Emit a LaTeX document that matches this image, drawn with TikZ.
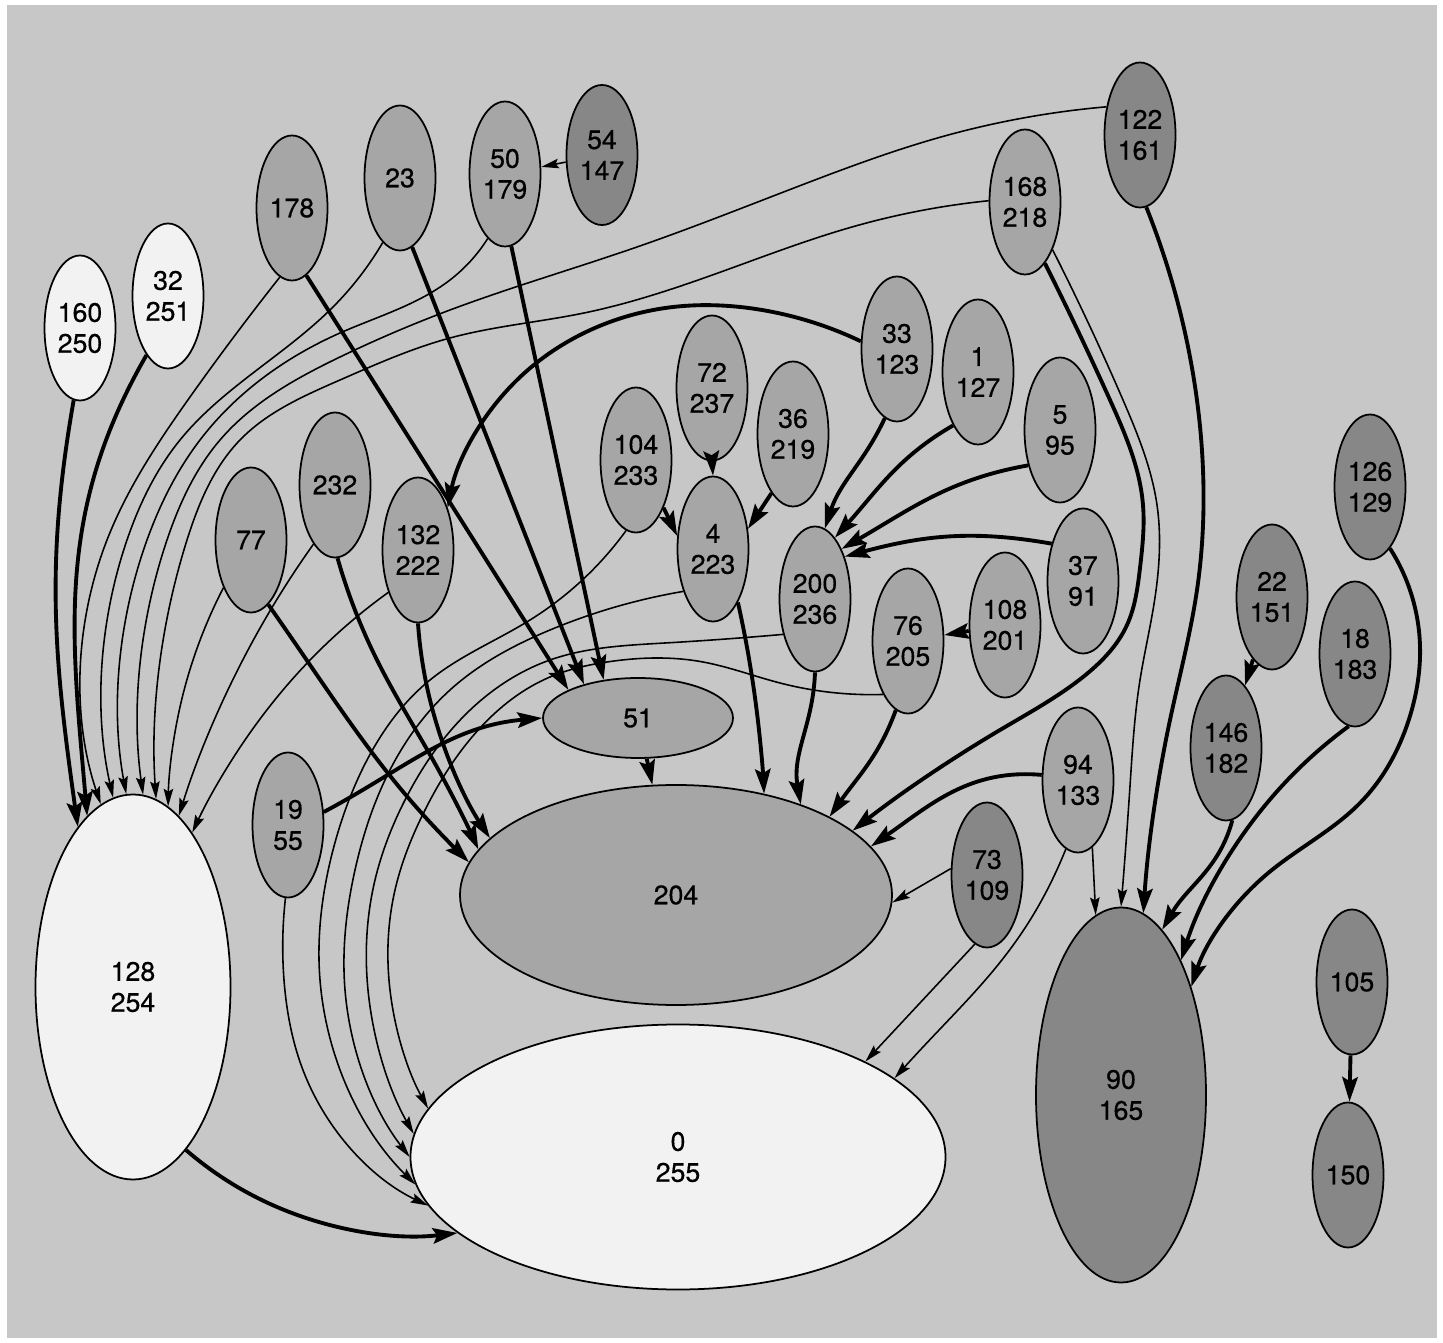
\documentclass[tikz,border=0pt]{standalone}
\usepackage{fontspec}
\setmainfont{TeX Gyre Heros}
\newfontfamily\vertexfont[FakeBold=0.45]{TeX Gyre Heros}
\usetikzlibrary{arrows.meta,shapes.geometric,hobby}
\definecolor{paper}{gray}{0.78}
\definecolor{midgray}{gray}{0.65}
\definecolor{deepgray}{gray}{0.53}
\definecolor{palegray}{gray}{0.95}
\tikzset{
    vertex/.style={
        ellipse, draw=black, line width=0.5pt, fill=midgray, inner sep=0pt,
        minimum width=7.1mm, minimum height=14.5mm, align=center,
        text=black, font=\vertexfont\fontsize{7.6}{8.8}\selectfont
    },
    pale/.style={fill=palegray},
    deep/.style={fill=deepgray},
    heavy/.style={line width=1.1pt, -{Stealth[length=7pt,width=4.4pt,inset=1.2pt]}},
    light/.style={line width=0.45pt, -{Stealth[length=5pt,width=2.7pt,inset=0.8pt]}}
}
\begin{document}
\begin{tikzpicture}[use Hobby shortcut]
    \useasboundingbox (0,0) rectangle (14.43,-13.43);
    \fill[paper] (0.07,-0.05) rectangle (14.37,-13.38);

    \node[vertex,pale] (v160) at (0.80,-3.28) {160\\250};
    \node[vertex,pale] (v32) at (1.68,-2.96) {32\\251};
    \node[vertex] (v178) at (2.92,-2.08) {178};
    \node[vertex] (v23) at (4.00,-1.78) {23};
    \node[vertex] (v50) at (5.05,-1.74) {50\\179};
    \node[vertex,deep,minimum height=14mm] (v54) at (6.02,-1.55) {54\\147};
    \node[vertex,deep] (v122) at (11.40,-1.35) {122\\161};
    \node[vertex] (v168) at (10.25,-2.02) {168\\218};
    \node[vertex] (v33) at (8.97,-3.49) {33\\123};
    \node[vertex] (v1) at (9.78,-3.72) {1\\127};
    \node[vertex] (v5) at (10.60,-4.30) {5\\95};
    \node[vertex] (v72) at (7.12,-3.88) {72\\237};
    \node[vertex] (v36) at (7.93,-4.34) {36\\219};
    \node[vertex] (v104) at (6.36,-4.60) {104\\233};
    \node[vertex] (v4) at (7.13,-5.49) {4\\223};
    \node[vertex] (v200) at (8.15,-5.99) {200\\236};
    \node[vertex] (v76) at (9.08,-6.41) {76\\205};
    \node[vertex] (v108) at (10.05,-6.25) {108\\201};
    \node[vertex] (v37) at (10.83,-5.81) {37\\91};
    \node[vertex,deep] (v126) at (13.70,-4.87) {126\\129};
    \node[vertex,deep] (v22) at (12.72,-5.97) {22\\151};
    \node[vertex,deep] (v18) at (13.55,-6.54) {18\\183};
    \node[vertex,deep] (v146) at (12.26,-7.48) {146\\182};
    \node[vertex] (v77) at (2.51,-5.40) {77};
    \node[vertex] (v232) at (3.35,-4.85) {232};
    \node[vertex] (v132) at (4.18,-5.50) {132\\222};
    \node[vertex,minimum width=19mm,minimum height=8mm] (v51) at (6.38,-7.18) {51};
    \node[vertex] (v19) at (2.88,-8.25) {19\\55};
    \node[vertex] (v94) at (10.78,-7.80) {94\\133};
    \node[vertex,deep] (v73) at (9.87,-8.75) {73\\109};
    \node[vertex,minimum width=43.2mm,minimum height=22mm] (v204) at (6.76,-8.95) {204};
    \node[vertex,pale,minimum width=19.5mm,minimum height=38.5mm] (v128) at (1.33,-9.87) {128\\254};
    \node[vertex,pale,minimum width=53.5mm,minimum height=26.5mm] (v0) at (6.78,-11.57) {0\\255};
    \node[vertex,deep,minimum width=17mm,minimum height=37.5mm] (v90) at (11.21,-10.95) {90\\165};
    \node[vertex,deep] (v105) at (13.52,-9.82) {105};
    \node[vertex,deep] (v150) at (13.48,-11.75) {150};

    \draw[heavy] (v160.-95) to[out=-100,in=98] (v128.109);
    \draw[heavy] (v32.-110) to[out=-120,in=95] (v128.105);
    \draw[light] (v178.-100) .. (1.90,-3.97) .. (1.07,-5.40) .. (v128.100);
    \draw[light] (v23.-105) .. (3.33,-3.07) .. (1.80,-4.40) .. (1.27,-5.40) .. (v128.96);
    \draw[light] (v50.-105) .. (4.50,-2.80) .. (3.40,-3.33) .. (2.00,-4.40) .. (1.47,-5.40) .. (v128.92);
    \draw[light] (v122.140) .. (9.41,-1.37) .. (8.07,-1.83) .. (6.37,-2.47) .. (4.50,-3.10) .. (3.40,-3.57) .. (2.20,-4.40) .. (1.67,-5.40) .. (v128.87);
    \draw[light] (v168.178) .. (8.52,-2.27) .. (7.18,-2.73) .. (5.84,-3.13) .. (4.50,-3.38) .. (3.40,-3.80) .. (2.40,-4.40) .. (1.87,-5.40) .. (v128.83);
    \draw[light] (v77.-120) .. (1.80,-7.07) .. (v128.79);
    \draw[light] (v232.-110) .. (2.48,-6.50) .. (v128.75);
    \draw[light] (v132.-125) .. (3.20,-6.50) .. (2.45,-7.40) .. (v128.69);

    \draw[heavy] (v128.-72) .. (2.77,-12.07) .. (v0.199);
    \draw[light] (v19.-92) .. (2.84,-9.80) .. (3.07,-10.80) .. (v0.191);
    \draw[light] (v104.-98) .. (5.30,-6.20) .. (4.30,-6.80) .. (3.62,-7.70) .. (3.33,-8.50) .. (3.20,-9.80) .. (v0.186);
    \draw[light] (v4.235) .. (5.50,-6.30) .. (4.50,-6.90) .. (3.85,-7.80) .. (3.55,-8.70) .. (3.45,-9.90) .. (v0.180);
    \draw[light] (v200.228) .. (6.65,-6.43) .. (5.50,-6.60) .. (4.65,-7.15) .. (4.05,-8.00) .. (3.75,-8.80) .. (3.68,-9.90) .. (v0.175);
    \draw[light] (v76.245) .. (7.80,-6.83) .. (7.03,-6.62) .. (6.07,-6.62) .. (5.50,-6.77) .. (4.80,-7.28) .. (4.25,-8.10) .. (3.95,-8.90) .. (3.90,-9.90) .. (v0.169);
    \draw[light] (v73.-100) -- (v0.27);
    \draw[light] (v94.-100) to[out=-112,in=48] (v0.20);

    \draw[heavy] (v178.-78) -- (v51.158);
    \draw[heavy] (v23.-80) -- (v51.148);
    \draw[heavy] (v50.-85) -- (v51.132);
    \draw[heavy] (v19.20) to[out=28,in=185] (v51.180);
    \draw[light] (v54) -- (v50);

    \draw[heavy] (v51) -- (v204);
    \draw[heavy] (v77.-75) to[out=-55,in=135] (v204.171);
    \draw[heavy] (v232.-88) .. (3.77,-6.60) .. (4.33,-7.60) .. (v204.167);
    \draw[heavy] (v132.-90) .. (4.30,-7.00) .. (v204.163);
    \draw[heavy] (v4.-65) .. (7.57,-7.13) .. (v204.49);
    \draw[heavy] (v200.-90) to[out=-92,in=100] (v204.36);
    \draw[heavy] (v76.-100) to[out=-110,in=55] (v204.27);
    \draw[heavy] (v168.-72) .. (11.10,-4.00) .. (11.43,-5.05) .. (11.40,-5.68) .. (11.27,-6.25) .. (10.83,-6.77) .. (10.00,-7.30) .. (v204.20);
    \draw[heavy] (v94.172) to[out=175,in=35] (v204.14);
    \draw[light] (v73.170) -- (v204.-2);

    \draw[heavy] (v33.168) .. (7.62,-3.10) .. (6.73,-3.07) .. (5.84,-3.33) .. (5.17,-3.80) .. (v132.55);
    \draw[heavy] (v72.-90) -- (v4.90);
    \draw[heavy] (v36.-110) -- (v4.30);
    \draw[heavy] (v104.-60) -- (v4.160);
    \draw[heavy] (v33.-100) to[out=-115,in=72] (v200.82);
    \draw[heavy] (v1.-115) to[out=-150,in=48] (v200.72);
    \draw[heavy] (v5.228) to[out=190,in=30] (v200.62);
    \draw[heavy] (v37.130) to[out=170,in=15] (v200.55);
    \draw[heavy] (v108) -- (v76);

    \draw[heavy] (v122.-85) .. (11.90,-3.57) .. (12.03,-4.70) .. (11.97,-5.90) .. (11.70,-7.20) .. (v90.83);
    \draw[light] (v168.-60) .. (11.23,-4.00) .. (11.57,-5.05) .. (11.53,-6.10) .. (11.40,-6.80) .. (11.30,-7.86) .. (v90.90);
    \draw[light] (v94.-78) -- (v90.98);
    \draw[heavy] (v146.-85) to[out=-105,in=60] (v90.76);
    \draw[heavy] (v18.-95) .. (12.67,-8.03) .. (v90.66);
    \draw[heavy] (v126.-72) .. (14.20,-6.46) .. (14.10,-7.16) .. (13.60,-8.03) .. (12.67,-8.74) .. (v90.57);
    \draw[heavy] (v22) -- (v146);
    \draw[heavy] (v105) -- (v150);
\end{tikzpicture}
\end{document}
